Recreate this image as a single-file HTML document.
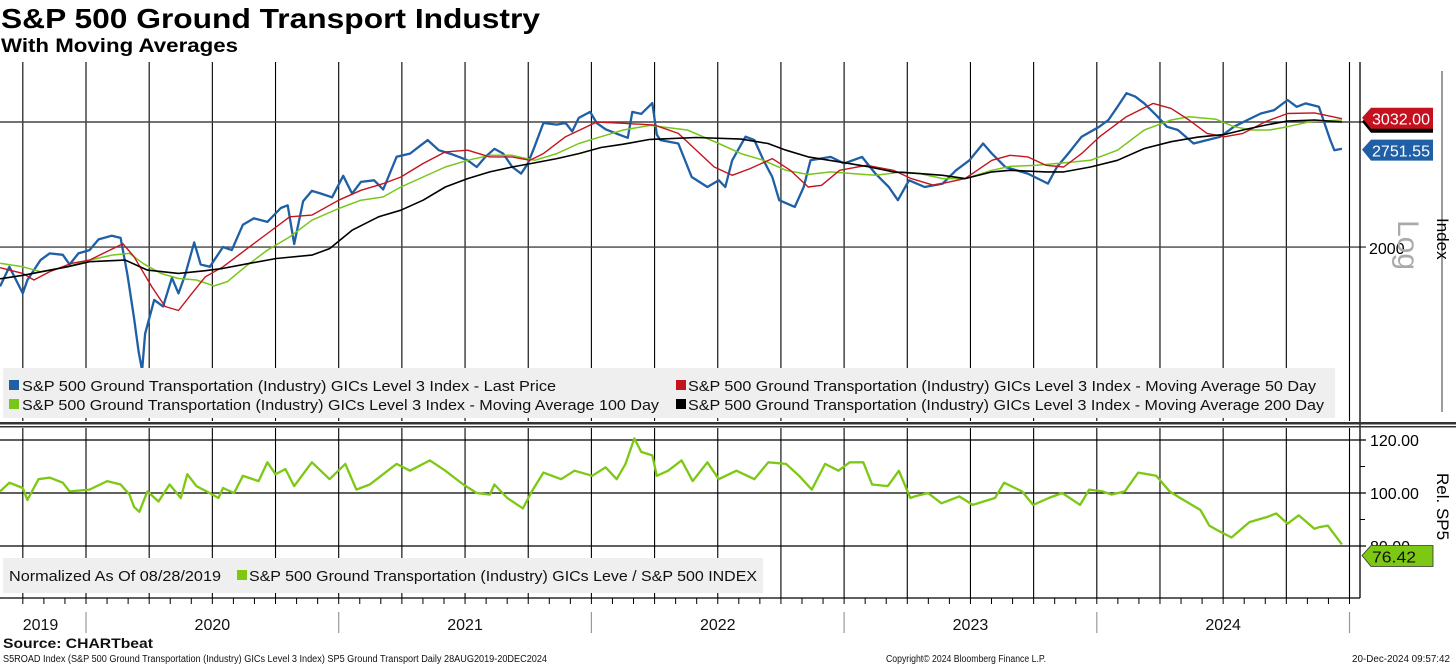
<!DOCTYPE html>
<html><head><meta charset="utf-8"><style>
html,body{margin:0;padding:0;background:#fff;}
svg{display:block;font-family:"Liberation Sans","DejaVu Sans",sans-serif;}
</style></head><body>
<svg id="chart" width="1456" height="666" viewBox="0 0 1456 666" xmlns="http://www.w3.org/2000/svg">
<text x="1" y="28" font-size="28" font-weight="bold" textLength="539" lengthAdjust="spacingAndGlyphs">S&amp;P 500 Ground Transport Industry</text>
<text x="1" y="52" font-size="19" font-weight="bold" textLength="237" lengthAdjust="spacingAndGlyphs">With Moving Averages</text>
<g id="grid"></g>
<g id="series"></g>
<g id="overlay"></g>
</svg>
<script>
const priceDates=[2019.66,2019.697,2019.75,2019.768,2019.82,2019.856,2019.908,2019.935,2019.97,2020.014,2020.05,2020.102,2020.137,2020.164,2020.19,2020.208,2020.222,2020.234,2020.27,2020.305,2020.34,2020.366,2020.393,2020.428,2020.454,2020.49,2020.542,2020.577,2020.621,2020.665,2020.718,2020.771,2020.798,2020.824,2020.859,2020.894,2020.93,2020.974,2021.018,2021.053,2021.088,2021.14,2021.176,2021.229,2021.282,2021.317,2021.352,2021.396,2021.44,2021.475,2021.51,2021.546,2021.581,2021.616,2021.651,2021.687,2021.722,2021.748,2021.775,2021.81,2021.863,2021.898,2021.924,2021.95,2021.995,2022.021,2022.056,2022.109,2022.144,2022.162,2022.197,2022.241,2022.259,2022.273,2022.344,2022.397,2022.459,2022.504,2022.53,2022.557,2022.61,2022.645,2022.681,2022.716,2022.743,2022.805,2022.84,2022.867,2022.947,2023.0,2023.071,2023.124,2023.177,2023.213,2023.257,2023.319,2023.39,2023.443,2023.496,2023.55,2023.585,2023.638,2023.727,2023.807,2023.842,2023.887,2023.94,2024.01,2024.046,2024.082,2024.117,2024.152,2024.188,2024.241,2024.277,2024.321,2024.383,2024.436,2024.489,2024.543,2024.596,2024.649,2024.702,2024.755,2024.791,2024.826,2024.879,2024.906,2024.924,2024.94,2024.97];
const priceValues=[1760,1876,1721,1797,1917,1959,1950,1890,1959,1980,2050,2075,2060,1830,1590,1425,1340,1510,1685,1649,1810,1721,1830,2030,1890,1876,2000,1980,2150,2195,2170,2270,2290,2020,2320,2400,2378,2350,2520,2378,2470,2483,2410,2680,2708,2768,2829,2738,2708,2680,2650,2593,2680,2750,2708,2593,2538,2620,2768,2990,2975,2990,2910,3040,3100,2990,2930,2880,2850,3100,3080,3190,2880,2829,2798,2510,2430,2483,2430,2650,2860,2829,2650,2510,2328,2278,2430,2650,2679,2622,2679,2538,2430,2328,2483,2430,2457,2565,2650,2798,2708,2593,2538,2457,2593,2708,2860,2955,3020,3152,3294,3258,3187,3052,2955,2923,2798,2829,2860,2955,3020,3084,3118,3222,3152,3187,3152,2955,2829,2738,2751.55];
const ma50Dates=[2019.66,2019.75,2019.794,2019.856,2019.944,2020.014,2020.146,2020.19,2020.26,2020.313,2020.366,2020.419,2020.472,2020.542,2020.63,2020.718,2020.806,2020.894,2021.0,2021.088,2021.176,2021.246,2021.334,2021.422,2021.51,2021.598,2021.686,2021.757,2021.81,2021.898,2022.021,2022.127,2022.25,2022.344,2022.415,2022.486,2022.557,2022.628,2022.716,2022.787,2022.858,2022.911,2022.982,2023.089,2023.195,2023.266,2023.355,2023.479,2023.585,2023.656,2023.727,2023.798,2023.869,2023.94,2024.011,2024.117,2024.223,2024.294,2024.365,2024.436,2024.507,2024.578,2024.667,2024.755,2024.862,2024.97];
const ma50Values=[1870,1836,1797,1846,1897,1917,2022,1938,1759,1649,1628,1721,1816,1876,1980,2090,2206,2218,2328,2404,2457,2510,2622,2723,2738,2679,2679,2650,2708,2860,3000,2987,2970,2891,2738,2593,2524,2579,2664,2565,2430,2443,2565,2607,2565,2497,2443,2497,2650,2693,2679,2607,2593,2708,2860,3052,3187,3135,3020,2891,2860,2891,3003,3084,3090,3032];
const ma100Dates=[2019.66,2019.75,2019.82,2019.926,2020.014,2020.102,2020.172,2020.225,2020.296,2020.366,2020.437,2020.507,2020.56,2020.63,2020.718,2020.806,2020.894,2021.0,2021.088,2021.176,2021.246,2021.334,2021.422,2021.51,2021.598,2021.686,2021.775,2021.863,2021.95,2022.038,2022.126,2022.232,2022.38,2022.504,2022.592,2022.681,2022.77,2022.858,2022.947,2023.035,2023.124,2023.23,2023.3,2023.39,2023.479,2023.585,2023.656,2023.762,2023.869,2023.975,2024.082,2024.188,2024.294,2024.365,2024.472,2024.543,2024.613,2024.684,2024.755,2024.844,2024.97];
const ma100Values=[1897,1876,1846,1876,1917,1948,1959,1897,1836,1806,1797,1763,1788,1876,1980,2067,2182,2266,2328,2353,2430,2510,2593,2650,2693,2693,2650,2708,2798,2860,2923,2967,2923,2798,2708,2650,2565,2530,2552,2538,2524,2552,2538,2497,2497,2565,2598,2607,2627,2650,2738,2923,3020,3052,3026,2955,2923,2923,2955,3003,3020];
const ma200Dates=[2019.66,2019.75,2019.926,2020.014,2020.155,2020.243,2020.366,2020.472,2020.542,2020.648,2020.753,2020.894,2020.964,2021.053,2021.158,2021.246,2021.334,2021.422,2021.51,2021.598,2021.686,2021.775,2021.863,2021.95,2022.038,2022.126,2022.232,2022.415,2022.592,2022.699,2022.77,2022.858,2022.982,2023.089,2023.195,2023.3,2023.39,2023.479,2023.585,2023.656,2023.798,2023.869,2023.975,2024.082,2024.188,2024.294,2024.401,2024.507,2024.578,2024.667,2024.755,2024.862,2024.97];
const ma200Values=[1804,1825,1876,1907,1917,1856,1836,1852,1866,1897,1927,1948,1990,2112,2206,2254,2328,2430,2497,2552,2593,2627,2664,2708,2762,2792,2835,2853,2838,2798,2738,2679,2636,2598,2552,2538,2524,2497,2552,2565,2552,2552,2593,2650,2753,2814,2857,2882,2923,2970,3010,3020,3000];
const relDates=[2019.66,2019.697,2019.75,2019.768,2019.812,2019.856,2019.908,2019.935,2020.014,2020.084,2020.137,2020.172,2020.19,2020.211,2020.243,2020.287,2020.331,2020.375,2020.401,2020.437,2020.489,2020.524,2020.542,2020.586,2020.621,2020.683,2020.718,2020.75,2020.789,2020.824,2020.894,2020.964,2021.026,2021.07,2021.123,2021.176,2021.229,2021.282,2021.361,2021.422,2021.493,2021.546,2021.598,2021.616,2021.667,2021.729,2021.764,2021.81,2021.88,2021.933,2022.003,2022.056,2022.1,2022.135,2022.17,2022.197,2022.241,2022.259,2022.304,2022.357,2022.401,2022.459,2022.504,2022.574,2022.645,2022.7,2022.77,2022.822,2022.872,2022.925,2022.978,2023.022,2023.076,2023.111,2023.173,2023.217,2023.262,2023.279,2023.332,2023.385,2023.456,2023.509,2023.597,2023.633,2023.704,2023.748,2023.81,2023.863,2023.934,2023.97,2024.023,2024.058,2024.111,2024.164,2024.235,2024.288,2024.33,2024.41,2024.445,2024.48,2024.533,2024.604,2024.675,2024.71,2024.755,2024.799,2024.861,2024.879,2024.914,2024.97];
const relValues=[100.6,103.9,101.9,97.4,105.2,105.8,103.9,100.6,101.3,104.5,103.2,99.4,94.8,92.9,100.6,96.8,103.2,98.1,107.1,102.6,100,98.1,101.9,100,106.5,104.5,111.6,107.1,109.0,102.6,111.6,105.2,111.0,101.3,103.2,107.1,111.0,108.4,112.3,108.4,103.2,100,99.4,103.2,98.1,94.2,100.6,107.7,105.2,108.4,106.5,109.7,105.2,111.0,120.6,115.5,114.2,106.5,108.4,112.3,104.5,111.6,105.2,108.4,105.2,111.6,111.0,106.5,101.3,111.0,108.4,111.6,111.6,103.2,102.6,108.4,98.1,98.7,100,96.1,98.7,95.5,98.1,103.9,100.6,95.5,98.1,100,95.5,101.3,100.6,99.4,100.6,107.7,106.5,100.6,98.1,93.6,87.7,85.8,83.2,89,91,92.3,88.4,91.6,86.5,87.1,87.7,80.6,76.42];
const yearLabels=["2019","2020","2021","2022","2023","2024"];
const yearLabelPos=[2019.82,2020.5,2021.5,2022.5,2023.5,2024.5];
const rightTicksTop=[2000,3000];
const rightTicksBottom=[80,100,120];

const NS="http://www.w3.org/2000/svg";
const X0=86, YPX=252.7;
function xs(t){return X0+(t-2020)*YPX;}
function yTop(v){return 122-Math.log10(v/3000)*710;}
function yBot(v){return 493-(v-100)*2.65;}
function mk(tag,attrs,parent){const e=document.createElementNS(NS,tag);for(const k in attrs)e.setAttribute(k,attrs[k]);parent.appendChild(e);return e;}
const grid=document.getElementById('grid'),ser=document.getElementById('series'),ov=document.getElementById('overlay');

for(let q=0;q<22;q++){
  const t=2019.75+q*0.25, x=xs(t);
  const l1=mk('line',{x1:x,y1:62,x2:x,y2:421,stroke:'#000','stroke-width':1.1},grid);
  
  
  const l2=mk('line',{x1:x,y1:428,x2:x,y2:598,stroke:'#000','stroke-width':1.1},grid);
  
  
}
for(let m=0;m<65;m++){
  const t=2019.75+m/12, x=xs(t);
  if(x>1360)break;
  const tb=mk('line',{x1:x,y1:598,x2:x,y2:604,stroke:'#000','stroke-width':1},grid);
  
  
}
rightTicksTop.forEach(v=>{
  const y=yTop(v);
  const g=mk('line',{x1:0,y1:y,x2:1366,y2:y,stroke:'#444','stroke-width':1.4},grid);
  
  
});
rightTicksBottom.forEach(v=>{
  const y=yBot(v);
  const g=mk('line',{x1:0,y1:y,x2:1366,y2:y,stroke:'#000','stroke-width':1.2},grid);
  
  
  const tx=mk('text',{x:1370,y:y+6,'font-size':16,fill:'#000'},grid);
  tx.textContent=v.toFixed(2);
  
  
});
{const tx=mk('text',{x:1369,y:yTop(2000)+7,'font-size':16,fill:'#000'},grid);tx.textContent='2000';

}
[90,110].forEach(v=>{const m=mk('line',{x1:1360,y1:yBot(v),x2:1365,y2:yBot(v),stroke:'#000'},grid);

});
[[1360,62,1360,598],[0,598,1360,598],[1442,71,1442,412]].forEach(a=>{
  const l=mk('line',{x1:a[0],y1:a[1],x2:a[2],y2:a[3],stroke:a[0]==1442?'#666':'#000','stroke-width':1.3},grid);
  
  
});
function path(dates,vals,yf,color,w,name){
  let d='';dates.forEach((t,i)=>{d+=(i?'L':'M')+xs(t).toFixed(1)+','+yf(vals[i]).toFixed(1);});
  const p=mk('path',{d:d,fill:'none',stroke:color,'stroke-width':w,'stroke-linejoin':'round'},ser);
  
  
}
path(priceDates,priceValues,yTop,'#1e5fa6',2.3,'last-price-line');
path(ma100Dates,ma100Values,yTop,'#78c61a',1.5,'ma100-line');
path(ma50Dates,ma50Values,yTop,'#c4141f',1.4,'ma50-line');
path(ma200Dates,ma200Values,yTop,'#000',1.6,'ma200-line');
path(relDates,relValues,yBot,'#7cc813',2.3,'relative-line');

function rect(x,y,w,h,f,name){const r=mk('rect',{x:x,y:y,width:w,height:h,fill:f},ov);return r;}
function txt(x,y,s,size,len,name,extra){const t=mk('text',Object.assign({x:x,y:y,'font-size':size,fill:'#111'},extra||{}),ov);if(len){t.setAttribute('textLength',len);t.setAttribute('lengthAdjust','spacingAndGlyphs');}t.textContent=s;return t;}
rect(3,368,1332,50,'#efefef','legend-box-top');
rect(9,380,10,10,'#1e5fa6','legend-swatch-price');
txt(22,391,'S&P 500 Ground Transportation (Industry) GICs Level 3 Index - Last Price',15,534,'legend-entry-price');
rect(9,399,10,10,'#78c61a','legend-swatch-ma100');
txt(22,410,'S&P 500 Ground Transportation (Industry) GICs Level 3 Index - Moving Average 100 Day',15,637,'legend-entry-ma100');
rect(676,380,10,10,'#c4141f','legend-swatch-ma50');
txt(688,391,'S&P 500 Ground Transportation (Industry) GICs Level 3 Index - Moving Average 50 Day',15,628,'legend-entry-ma50');
rect(676,399,10,10,'#000','legend-swatch-ma200');
txt(688,410,'S&P 500 Ground Transportation (Industry) GICs Level 3 Index - Moving Average 200 Day',15,636,'legend-entry-ma200');
rect(3,558,760,35,'#efefef','legend-box-bottom');
txt(9,581,'Normalized As Of 08/28/2019',15,212,'normalized-note');
rect(237,570,10,10,'#7cc813','legend-swatch-rel');
txt(249,581,'S&P 500 Ground Transportation (Industry) GICs Leve / S&P 500 INDEX',15,508,'legend-entry-rel');

rect(0,422,1456,2.5,'#333','panel-separator-1');
rect(0,426,1456,1.5,'#333','panel-separator-2');

function tag(y,val,fill,name,shadow){
  if(shadow){const s=mk('path',{d:`M1362,${y+4} L1371,${y-6} L1433,${y-6} L1433,${y+15} L1371,${y+15} Z`,fill:'#000'},ov);}
  const p=mk('path',{d:`M1362,${y} L1371,${y-10} L1433,${y-10} L1433,${y+11} L1371,${y+11} Z`,fill:fill,stroke:fill=='#7cc813'?'#333':'none','stroke-width':0.8},ov);
  
  
  txt(1372,y+7,val,16,val.length>5?58:44,name,{fill:fill=='#7cc813'?'#111':'#fff'});
}
tag(yTop(3032)-1,ma50Values[ma50Values.length-1].toFixed(2),'#c4111f','ma50-value-tag',true);
tag(yTop(2751.55)+1,priceValues[priceValues.length-1].toFixed(2),'#1e5fa6','price-value-tag',false);
tag(yBot(76.42),relValues[relValues.length-1].toFixed(2),'#7cc813','rel-value-tag',false);

txt(0,0,'Log',30,0,'log-scale-label',{fill:'#aaa',transform:'translate(1398,220) rotate(90)'});
txt(0,0,'Index',17,0,'y-axis-title-index',{fill:'#000',transform:'translate(1437,218) rotate(90)'});
txt(0,0,'Rel. SP5',17,0,'y-axis-title-rel',{fill:'#000',transform:'translate(1437,473) rotate(90)'});

yearLabels.forEach((s,i)=>{txt(xs(yearLabelPos[i]),630,s,16,0,'x-year-label',{'text-anchor':'middle'});});
for(let y=2020;y<=2025;y++){const l=mk('line',{x1:xs(y),y1:612,x2:xs(y),y2:633,stroke:'#999','stroke-width':1.2},ov);

}

txt(3,648,'Source: CHARTbeat',14,150,'source-note',{'font-weight':'bold'});
txt(3,662,'S5ROAD Index (S&P 500 Ground Transportation (Industry) GICs Level 3 Index) SP5 Ground Transport  Daily 28AUG2019-20DEC2024',10,544,'footer-description');
txt(886,662,'Copyright© 2024 Bloomberg Finance L.P.',10,160,'footer-copyright');
txt(1352,662,'20-Dec-2024 09:57:42',10,98,'footer-timestamp');
</script>
</body></html>
